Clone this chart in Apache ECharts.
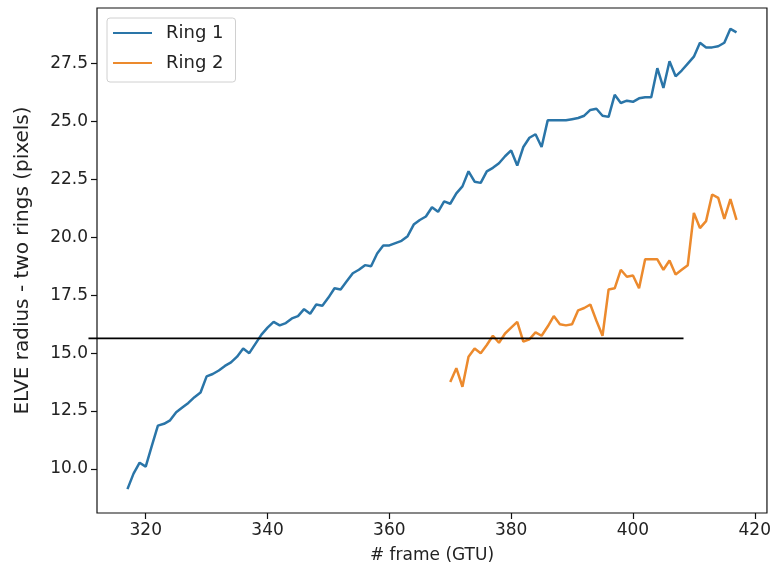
<!doctype html>
<html>
<head>
    <meta charset="UTF-8">
    <title>ELVE radius - two rings</title>
    <script src="https://cdn.jsdelivr.net/npm/echarts@6/dist/echarts.min.js"></script>
    <style>
        html, body { margin: 0; padding: 0; background: #fff; }
        #main { width: 774px; height: 571px; }
    </style>
</head>
<body>
<div id="main"></div>
<script type="text/javascript">
    // frame numbers (GTU)
    var ring1Start = 317;
    var ring2Start = 370;

    // ELVE radius, one value per frame
    var ring1 = [
        9.13, 9.8, 10.27, 10.1, 11.0, 11.87, 11.95, 12.1, 12.45, 12.65,
        12.85, 13.1, 13.3, 14.0, 14.1, 14.25, 14.45, 14.6, 14.85, 15.2,
        15.0, 15.4, 15.8, 16.1, 16.35, 16.2, 16.3, 16.5, 16.6, 16.9,
        16.7, 17.1, 17.05, 17.4, 17.8, 17.75, 18.1, 18.45, 18.6, 18.8,
        18.75, 19.3, 19.65, 19.65, 19.75, 19.85, 20.05, 20.55, 20.75, 20.9,
        21.3, 21.1, 21.55, 21.45, 21.9, 22.2, 22.85, 22.4, 22.35, 22.85,
        23.0, 23.2, 23.5, 23.75, 23.1, 23.9, 24.3, 24.45, 23.9, 25.05,
        25.05, 25.05, 25.05, 25.1, 25.15, 25.25, 25.5, 25.55, 25.25, 25.2,
        26.15, 25.8, 25.9, 25.85, 26.0, 26.05, 26.05, 27.3, 26.45, 27.6,
        26.95, 27.2, 27.5, 27.8, 28.4, 28.2, 28.2, 28.25, 28.4, 29.0,
        28.85
    ];
    var ring2 = [
        13.75, 14.35, 13.55, 14.85, 15.2, 15.0, 15.35, 15.75, 15.45, 15.85,
        16.1, 16.35, 15.5, 15.6, 15.9, 15.75, 16.15, 16.6, 16.25, 16.2,
        16.25, 16.85, 16.95, 17.1, 16.4, 15.75, 17.75, 17.8, 18.6, 18.3,
        18.35, 17.8, 19.05, 19.05, 19.05, 18.6, 19.0, 18.4, 18.6, 18.8,
        21.05, 20.4, 20.7, 21.85, 21.7, 20.8, 21.65, 20.75
    ];

    // tick labels
    var xTicks = [320, 340, 360, 380, 400, 420];
    var yTicks = [10, 12.5, 15, 17.5, 20, 22.5, 25, 27.5];

    // horizontal reference line (starts a bit left of the frame)
    var refY = 15.64;
    var refX = [310.6, 408.3];

    function pairs(start, vals) {
        var res = [];
        for (var i = 0; i < vals.length; i++) {
            res.push([start + i, vals[i]]);
        }
        return res;
    }

    var font = 'DejaVu Sans';
    var myChart = echarts.init(document.getElementById('main'));
    var option = {
        animation: false,
        backgroundColor: '#fff',
        grid: {
            left: 97, right: 6, top: 8, bottom: 58,
            show: true,
            borderColor: '#111',
            borderWidth: 1.2
        },
        legend: {
            orient: 'vertical',
            left: 107, top: 18,
            padding: [6, 12, 10, 6],
            itemGap: 12,
            itemWidth: 39,
            itemHeight: 2,
            icon: 'rect',
            borderColor: '#d0d0d0',
            borderWidth: 1,
            borderRadius: 3,
            backgroundColor: 'rgba(255,255,255,0.8)',
            textStyle: {
                fontFamily: font, fontSize: 18, color: '#222',
                lineHeight: 18, padding: [0, 0, 0, 9]
            },
            data: ['Ring 1', 'Ring 2']
        },
        xAxis: {
            type: 'value',
            min: 312, max: 422,
            name: '# frame (GTU)',
            nameLocation: 'middle',
            nameGap: 34,
            nameTextStyle: { fontFamily: font, fontSize: 17, color: '#222' },
            axisLine: { show: false },
            splitLine: { show: false },
            axisTick: {
                show: true, length: 6, inside: false,
                customValues: xTicks,
                lineStyle: { color: '#111', width: 1.2 }
            },
            axisLabel: {
                customValues: xTicks,
                margin: 9,
                fontFamily: font, fontSize: 17, color: '#222'
            }
        },
        yAxis: {
            type: 'value',
            min: 8.1, max: 29.9,
            name: 'ELVE radius - two rings (pixels)',
            nameLocation: 'middle',
            nameGap: 64,
            nameTextStyle: { fontFamily: font, fontSize: 20, color: '#222' },
            axisLine: { show: false },
            splitLine: { show: false },
            axisTick: {
                show: true, length: 6, inside: false,
                customValues: yTicks,
                lineStyle: { color: '#111', width: 1.2 }
            },
            axisLabel: {
                customValues: yTicks,
                margin: 9,
                fontFamily: font, fontSize: 17, color: '#222',
                formatter: function (v) { return v.toFixed(1); }
            }
        },
        series: [
            {
                name: 'Ring 1',
                type: 'line',
                data: pairs(ring1Start, ring1),
                showSymbol: false,
                color: '#2a75a8',
                lineStyle: { width: 2.5 }
            },
            {
                name: 'Ring 2',
                type: 'line',
                data: pairs(ring2Start, ring2),
                showSymbol: false,
                color: '#ec8a2d',
                lineStyle: { width: 2.5 }
            }
        ]
    };
    myChart.setOption(option);

    // reference line placed through the axes' own scale
    var p0 = myChart.convertToPixel({ gridIndex: 0 }, [refX[0], refY]);
    var p1 = myChart.convertToPixel({ gridIndex: 0 }, [refX[1], refY]);
    myChart.setOption({
        graphic: [{
            type: 'line',
            silent: true,
            z: 100,
            shape: { x1: p0[0], y1: p0[1], x2: p1[0], y2: p1[1] },
            style: { stroke: '#000', lineWidth: 1.6 }
        }]
    });
</script>
</body>
</html>
